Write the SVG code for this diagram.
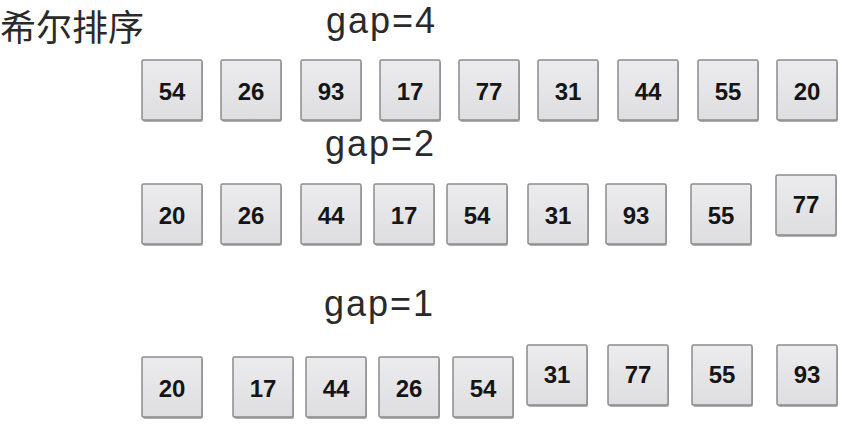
<svg xmlns="http://www.w3.org/2000/svg" width="853" height="430" viewBox="0 0 853 430">
<defs>
<style>
.bg{fill:#ffffff}
.title{font-family:"Liberation Sans","Noto Sans CJK SC",sans-serif;font-size:36px;fill:#2a2a2a}
.gap{font-family:"Liberation Sans",Arial,sans-serif;font-size:36px;letter-spacing:2px;fill:#2a2a2a}
.shadow{fill:#9a9a9a;opacity:0.8}
.box{fill:url(#g);stroke:#8c8c8c;stroke-width:1.5}
.num{font-family:"Liberation Sans",Arial,sans-serif;font-size:24px;font-weight:bold;fill:#151515;text-anchor:middle}
</style>
<linearGradient id="g" x1="0" y1="0" x2="0" y2="1">
<stop offset="0" stop-color="#ececee"/>
<stop offset="1" stop-color="#dedee0"/>
</linearGradient>
<g id="cell">
<rect class="shadow" x="1" y="2" width="60" height="60" rx="2"/>
<rect class="box" x="0" y="0" width="60" height="60" rx="1.5"/>
</g>
</defs>
<rect class="bg" x="0" y="0" width="853" height="430"/>
<text class="title" x="0" y="41">希尔排序</text>
<text class="gap" x="326" y="33">gap=4</text>
<text class="gap" x="325" y="156">gap=2</text>
<text class="gap" x="324" y="316">gap=1</text>

<g id="row1">
<g id="r1n1" transform="translate(142,60)"><use href="#cell"/><text class="num" x="30" y="40">54</text></g>
<g id="r1n2" transform="translate(221,60)"><use href="#cell"/><text class="num" x="30" y="40">26</text></g>
<g id="r1n3" transform="translate(301,60)"><use href="#cell"/><text class="num" x="30" y="40">93</text></g>
<g id="r1n4" transform="translate(380,60)"><use href="#cell"/><text class="num" x="30" y="40">17</text></g>
<g id="r1n5" transform="translate(459,60)"><use href="#cell"/><text class="num" x="30" y="40">77</text></g>
<g id="r1n6" transform="translate(538,60)"><use href="#cell"/><text class="num" x="30" y="40">31</text></g>
<g id="r1n7" transform="translate(618,60)"><use href="#cell"/><text class="num" x="30" y="40">44</text></g>
<g id="r1n8" transform="translate(698,60)"><use href="#cell"/><text class="num" x="30" y="40">55</text></g>
<g id="r1n9" transform="translate(777,60)"><use href="#cell"/><text class="num" x="30" y="40">20</text></g>
</g>

<g id="row2">
<g id="r2n1" transform="translate(142,184)"><use href="#cell"/><text class="num" x="30" y="40">20</text></g>
<g id="r2n2" transform="translate(221,184)"><use href="#cell"/><text class="num" x="30" y="40">26</text></g>
<g id="r2n3" transform="translate(301,184)"><use href="#cell"/><text class="num" x="30" y="40">44</text></g>
<g id="r2n4" transform="translate(374,184)"><use href="#cell"/><text class="num" x="30" y="40">17</text></g>
<g id="r2n5" transform="translate(447,184)"><use href="#cell"/><text class="num" x="30" y="40">54</text></g>
<g id="r2n6" transform="translate(528,184)"><use href="#cell"/><text class="num" x="30" y="40">31</text></g>
<g id="r2n7" transform="translate(606,184)"><use href="#cell"/><text class="num" x="30" y="40">93</text></g>
<g id="r2n8" transform="translate(691,184)"><use href="#cell"/><text class="num" x="30" y="40">55</text></g>
<g id="r2n9" transform="translate(776,175)"><use href="#cell"/><text class="num" x="30" y="38">77</text></g>
</g>

<g id="row3">
<g id="r3n1" transform="translate(142,357)"><use href="#cell"/><text class="num" x="30" y="40">20</text></g>
<g id="r3n2" transform="translate(233,357)"><use href="#cell"/><text class="num" x="30" y="40">17</text></g>
<g id="r3n3" transform="translate(306,357)"><use href="#cell"/><text class="num" x="30" y="40">44</text></g>
<g id="r3n4" transform="translate(379,357)"><use href="#cell"/><text class="num" x="30" y="40">26</text></g>
<g id="r3n5" transform="translate(453,357)"><use href="#cell"/><text class="num" x="30" y="40">54</text></g>
<g id="r3n6" transform="translate(527,345)"><use href="#cell"/><text class="num" x="30" y="38">31</text></g>
<g id="r3n7" transform="translate(608,345)"><use href="#cell"/><text class="num" x="30" y="38">77</text></g>
<g id="r3n8" transform="translate(692,345)"><use href="#cell"/><text class="num" x="30" y="38">55</text></g>
<g id="r3n9" transform="translate(777,345)"><use href="#cell"/><text class="num" x="30" y="38">93</text></g>
</g>
</svg>
